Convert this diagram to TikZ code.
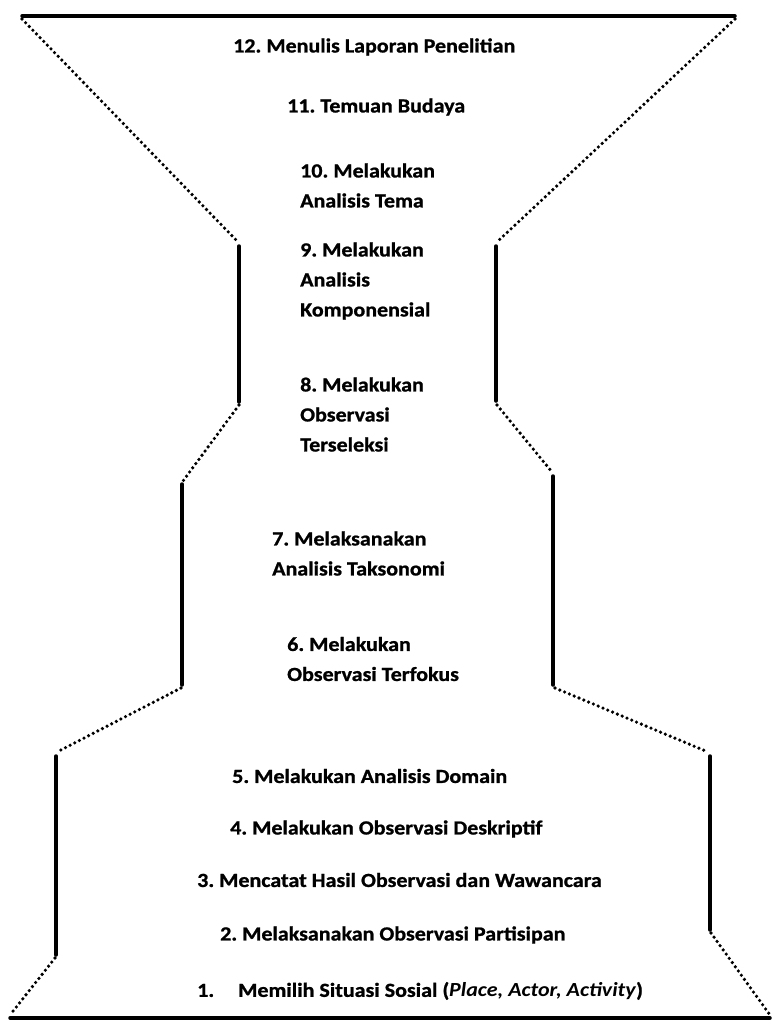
\documentclass[tikz,border=0pt]{standalone}
\usepackage{fontspec}
\setmainfont{Carlito}[FakeStretch=1.1,BoldFeatures={FakeBold=1}]
\frenchspacing
\tikzset{
  rim/.style={line width=3.5pt, line cap=round},
  dotline/.style={line width=3.6pt, line cap=round, dash pattern=on 0pt off 5.2pt},
  steptext/.style={anchor=west, inner sep=0pt, align=left, font=\fontsize{20}{30}\selectfont\bfseries}
}
\begin{document}
\begin{tikzpicture}[x=1pt,y=-1pt]
\useasboundingbox (0,0) rectangle (775,1024);

  % top and bottom rims
  \draw[rim] (22,16) -- (735,16);
  \draw[rim] (10,1018) -- (770,1018);

  % left wall
  \draw[dotline] (22,19) -- (238,242);
  \draw[rim] (239,246) -- (239,402);
  \draw[dotline] (239,405) -- (183,481);
  \draw[rim] (182,484) -- (182,685);
  \draw[dotline] (181,688) -- (57,752);
  \draw[rim] (56,756) -- (56,955);
  \draw[dotline] (55,958) -- (10,1015);

  % right wall
  \draw[dotline] (735,19) -- (497,242);
  \draw[rim] (496,246) -- (496,401);
  \draw[dotline] (497,405) -- (552,472);
  \draw[rim] (553,476) -- (553,685);
  \draw[dotline] (555,688) -- (708,752);
  \draw[rim] (710,756) -- (710,930);
  \draw[dotline] (711,933) -- (770,1015);

  % steps
  \node[steptext] (s12) at (233,47) {12. Menulis Laporan Penelitian};
  \node[steptext] (s11) at (287,107) {11. Temuan Budaya};
  \node[steptext] (s10) at (300,185.5) {10. Melakukan\\Analisis Tema};
  \node[steptext] (s9) at (300,281) {9. Melakukan\\Analisis\\Komponensial};
  \node[steptext] (s8) at (300,414.5) {8. Melakukan\\Observasi\\Terseleksi};
  \node[steptext] (s7) at (272,553.5) {7. Melaksanakan\\Analisis Taksonomi};
  \node[steptext] (s6) at (287,659) {6. Melakukan\\Observasi Terfokus};
  \node[steptext] (s5) at (232,776) {5. Melakukan Analisis Domain};
  \node[steptext] (s4) at (230,829) {4. Melakukan Observasi Deskriptif};
  \node[steptext] (s3) at (197,880) {3. Mencatat Hasil Observasi dan Wawancara};
  \node[steptext] (s2) at (220,935) {2. Melaksanakan Observasi Partisipan};
  \node[steptext] (s1) at (197,991) {1.\hspace{24pt}Memilih Situasi Sosial (\textit{Place, Actor, Activity})};

\end{tikzpicture}
\end{document}
